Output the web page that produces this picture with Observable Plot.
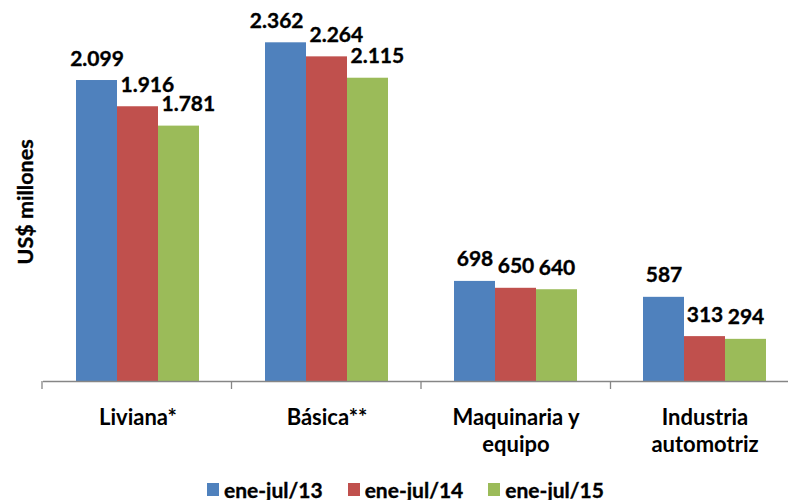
<!DOCTYPE html>
<html><head><meta charset="utf-8">
<script src="https://cdn.jsdelivr.net/npm/d3@7"></script>
<script src="https://cdn.jsdelivr.net/npm/@observablehq/plot@0.6"></script>
<style>
html,body{margin:0;padding:0;background:#fff;}
#wrap{position:relative;width:788px;height:500px;overflow:hidden;font-family:Lato, sans-serif;font-weight:bold;}
#chart svg{max-width:none !important;display:block;}
#legend{position:absolute;left:207px;top:479px;display:flex;gap:25px;font-size:21px;line-height:21px;color:#000;-webkit-text-stroke:0.35px #000;}
#legend .item{display:flex;align-items:center;gap:5px;white-space:nowrap;}
#legend .sw{width:12px;height:13px;display:inline-block;}
</style></head><body>
<div id="wrap"><div id="chart"></div><div id="legend"></div></div>
<script>
const categories = ["Liviana*", "Básica**", "Maquinaria y equipo", "Industria automotriz"];
const categoryLabels = ["Liviana*", "Básica**", "Maquinaria y\nequipo", "Industria\nautomotriz"];
const series = ["ene-jul/13", "ene-jul/14", "ene-jul/15"];
const values13 = [2099, 2362, 698, 587];
const values14 = [1916, 2264, 650, 313];
const values15 = [1781, 2115, 640, 294];
const colors = ["#4F81BD", "#C0504D", "#9BBB59"];
const yLabel = "US$ millones";

const seriesValues = [values13, values14, values15];
const data = [];
categories.forEach((c, i) => series.forEach((s, j) => data.push({category: c, series: s, value: seriesValues[j][i]})));
const fmt = v => d3.format(",")(v).replace(/,/g, ".");
const LABEL_GAP = 15, LABEL_H = 15;

const plot = Plot.plot({
  width: 800, height: 470,
  marginLeft: 42, marginRight: 0, marginTop: 0, marginBottom: 89,
  style: {fontFamily: "Lato, sans-serif", fontWeight: "bold", fontSize: "20px", color: "#000", background: "white", overflow: "visible", maxWidth: "none"},
  fx: {domain: categories, padding: 0, axis: null},
  x: {domain: series, paddingInner: 0, paddingOuter: 0.755, axis: null},
  y: {domain: [0, 2657], axis: null},
  color: {domain: series, range: colors},
  marks: [
    Plot.barY(data, {fx: "category", x: "series", y: "value", fill: "series"}),
    Plot.ruleY([0], {stroke: "#868686", strokeWidth: 1.3}),
    Plot.text(data, {fx: "category", x: "series", y: "value", text: d => fmt(d.value), dy: -LABEL_GAP, lineAnchor: "bottom", fontSize: 21, fontWeight: "bold", fill: "#000", stroke: "#000", strokeWidth: 0.35, className: "vlabels"}),
    Plot.axisFx({anchor: "bottom", tickSize: 0, tickPadding: 25, tickFormat: c => categoryLabels[categories.indexOf(c)], fontSize: 22, fontWeight: "bold", lineHeight: 1.2, label: null, fill: "#000", stroke: "#000", strokeWidth: 0.35})
  ]
});
document.getElementById("chart").appendChild(plot);

const svg = d3.select(plot);
const fxs = plot.scale("fx");
const xs = plot.scale("x");
const ys = plot.scale("y");
const [r0, r1] = fxs.range;
const step = (r1 - r0) / categories.length;
const y0 = ys.apply(0);
const bw = xs.bandwidth;

// Excel-like label placement: nudge labels that would collide with a neighbouring bar or label
svg.selectAll("g.vlabels").each(function() {
  const texts = d3.select(this).selectAll("text").nodes();
  if (texts.length !== series.length) return;
  const vals = texts.map(t => +t.textContent.replace(/\./g, ""));
  const w = texts.map(t => t.getBBox().width);
  const cx = series.map(s => xs.apply(s) + bw / 2);
  const base = vals.map(v => ys.apply(v) - LABEL_GAP);
  const shift = [0, 0, 0];
  for (let j = 1; j < texts.length; j++) {
    const barTop = ys.apply(vals[j - 1]);
    const barRight = xs.apply(series[j - 1]) + bw;
    const left = cx[j] - w[j] / 2;
    if (barTop < base[j] - 1 && left < barRight) shift[j] = barRight - left + 3;
  }
  for (let j = 1; j < texts.length; j++) {
    if (Math.abs(base[j] - base[j - 1]) < LABEL_H) {
      const rightPrev = cx[j - 1] + shift[j - 1] + w[j - 1] / 2;
      const leftCur = cx[j] + shift[j] - w[j] / 2;
      const o = rightPrev - leftCur;
      if (o > 0) { shift[j - 1] -= o / 2 + 3; shift[j] += o / 2 + 3; }
    }
  }
  texts.forEach((t, j) => {
    if (shift[j]) t.setAttribute("transform", (t.getAttribute("transform") || "") + ` translate(${shift[j]},0)`);
  });
});

// category boundary ticks
const g = svg.append("g").attr("stroke", "#868686").attr("stroke-width", 1.3);
for (let i = 0; i <= categories.length; i++) {
  g.append("line").attr("x1", r0 + i * step).attr("x2", r0 + i * step).attr("y1", y0).attr("y2", y0 + 8);
}
// y label
svg.append("text")
  .attr("transform", `translate(33,${y0 * 0.53}) rotate(-90)`)
  .attr("text-anchor", "middle")
  .attr("font-size", 21.5).attr("font-weight", "bold").attr("fill", "#000")
  .attr("stroke", "#000").attr("stroke-width", 0.35)
  .text(yLabel);

// legend
const lg = d3.select("#legend");
series.forEach((s, j) => {
  const it = lg.append("div").attr("class", "item");
  it.append("span").attr("class", "sw").style("background", colors[j]);
  it.append("span").text(s);
});
</script>
</body></html>
